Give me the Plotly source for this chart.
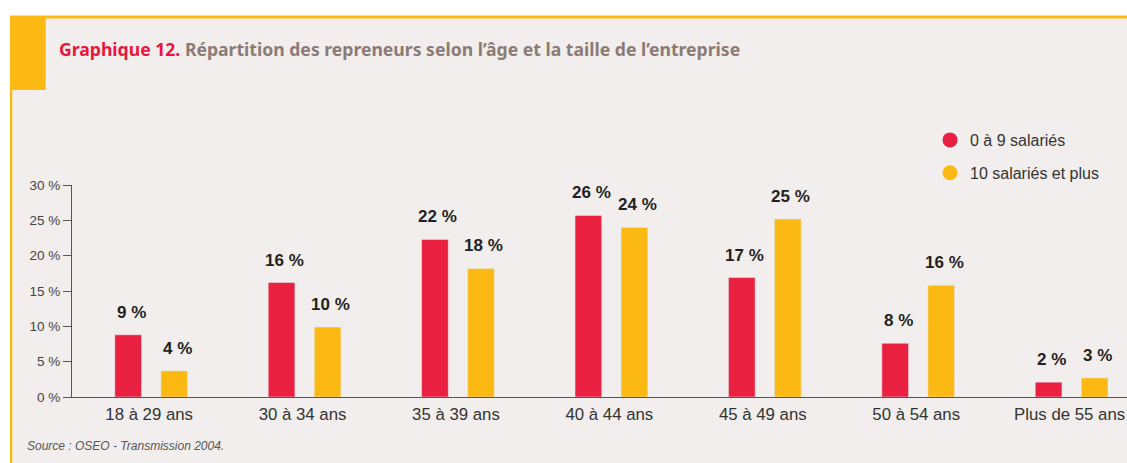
import plotly.graph_objects as go

# ---- data ----
categories = ["18 à 29 ans", "30 à 34 ans", "35 à 39 ans", "40 à 44 ans",
              "45 à 49 ans", "50 à 54 ans", "Plus de 55 ans"]
small_firms = [8.8, 16.2, 22.3, 25.7, 16.9, 7.6, 2.1]      # 0 à 9 salariés
large_firms = [3.7, 9.9, 18.2, 24.0, 25.2, 15.8, 2.7]      # 10 salariés et plus
small_labels = ["9 %", "16 %", "22 %", "26 %", "17 %", "8 %", "2 %"]
large_labels = ["4 %", "10 %", "18 %", "24 %", "25 %", "16 %", "3 %"]
series_names = ["0 à 9 salariés", "10 salariés et plus"]
y_ticks = [0, 5, 10, 15, 20, 25, 30]

RED = "#e9203f"
YELLOW = "#fdb913"
ORANGE = "#fdb913"
BG = "#f2eeed"

W, H = 1127, 463
L, R, T, B = 72, 0, 185, 66
PW, PH = W - L - R, H - T - B


def px_x(px):
    return (px - L) / PW


def px_y(py):
    return (H - B - py) / PH


fig = go.Figure()

fig.add_trace(go.Bar(x=categories, y=small_firms, marker_color=RED,
                     name=series_names[0], showlegend=False, hoverinfo="skip"))
fig.add_trace(go.Bar(x=categories, y=large_firms, marker_color=YELLOW,
                     name=series_names[1], showlegend=False, hoverinfo="skip"))

# legend entries with round markers
for nm, col, grp in [(series_names[0], RED, "a"), (series_names[1], YELLOW, "b")]:
    fig.add_trace(go.Scatter(x=[None], y=[None], mode="markers", name=nm,
                             legendgroup=grp,
                             marker=dict(symbol="circle", size=15, color=col)))

annotations = []
for cat, v, lab in zip(categories, small_firms, small_labels):
    annotations.append(dict(x=cat, y=v, text="<b>%s</b>" % lab, showarrow=False,
                            xref="x", yref="y", xshift=-23 + 3, yshift=11,
                            yanchor="bottom",
                            font=dict(family="Liberation Sans, Arial", size=17, color="#231f20")))
for cat, v, lab in zip(categories, large_firms, large_labels):
    annotations.append(dict(x=cat, y=v, text="<b>%s</b>" % lab, showarrow=False,
                            xref="x", yref="y", xshift=23 + 3, yshift=11,
                            yanchor="bottom",
                            font=dict(family="Liberation Sans, Arial", size=17, color="#231f20")))

annotations.append(dict(
    x=px_x(57), y=px_y(49), xref="paper", yref="paper", xanchor="left", yanchor="middle",
    showarrow=False,
    text="<span style='font-stretch:condensed'><b><span style='color:#e8173c;font-stretch:condensed'>Graphique 12.</span> Répartition des repreneurs selon l’âge et la taille de l’entreprise</b></span>",
    font=dict(family="Noto Sans, DejaVu Sans", size=17.6, color="#8c7b75")))

annotations.append(dict(
    x=px_x(25), y=px_y(446), xref="paper", yref="paper", xanchor="left", yanchor="middle",
    showarrow=False, text="<i>Source : OSEO - Transmission 2004.</i>",
    font=dict(family="Liberation Sans, Arial", size=12, color="#555555")))

shapes = [
    dict(type="rect", xref="paper", yref="paper", x0=px_x(10), x1=px_x(1135),
         y0=px_y(470), y1=px_y(16), fillcolor=BG, line=dict(width=0), layer="below"),
    dict(type="rect", xref="paper", yref="paper", x0=px_x(10), x1=px_x(1135),
         y0=px_y(18.5), y1=px_y(15.5), fillcolor=ORANGE, line=dict(width=0), layer="below"),
    dict(type="rect", xref="paper", yref="paper", x0=px_x(10), x1=px_x(45.7),
         y0=px_y(90), y1=px_y(16), fillcolor=ORANGE, line=dict(width=0), layer="below"),
    dict(type="rect", xref="paper", yref="paper", x0=px_x(10), x1=px_x(12.3),
         y0=px_y(470), y1=px_y(90), fillcolor=ORANGE, line=dict(width=0), layer="below"),
]

fig.update_layout(
    width=W, height=H,
    margin=dict(l=L, r=R, t=T, b=B, pad=0),
    paper_bgcolor="white",
    plot_bgcolor="rgba(0,0,0,0)",
    barmode="group",
    bargap=0.4,
    bargroupgap=0.42,
    font=dict(family="Liberation Sans, Arial", color="#333333"),
    annotations=annotations,
    shapes=shapes,
    showlegend=True,
    legend=dict(x=px_x(930), y=px_y(123), xanchor="left", yanchor="top",
                bgcolor="rgba(0,0,0,0)", tracegroupgap=9,
                font=dict(family="Liberation Sans, Arial", size=16, color="#333333")),
    xaxis=dict(type="category", range=[-0.516, 6.361], showline=True, linecolor="#555555",
               linewidth=1, ticks="", showgrid=False, zeroline=False,
               tickfont=dict(size=16.8, color="#333333"), ticklabelstandoff=2,
               ticklabelshift=-2, fixedrange=True),
    yaxis=dict(range=[0, 30], tickvals=y_ticks, ticktext=["%d %%" % t for t in y_ticks],
               showline=True, linecolor="#555555", linewidth=1, ticks="outside",
               ticklen=8, tickcolor="#555555", showgrid=False, zeroline=False,
               tickfont=dict(size=13.5, color="#444444"), fixedrange=True),
)

fig.write_html("out.html", config={"displayModeBar": False},
               post_script="document.body.style.margin='0';document.body.style.padding='0';document.body.style.overflow='hidden';")
